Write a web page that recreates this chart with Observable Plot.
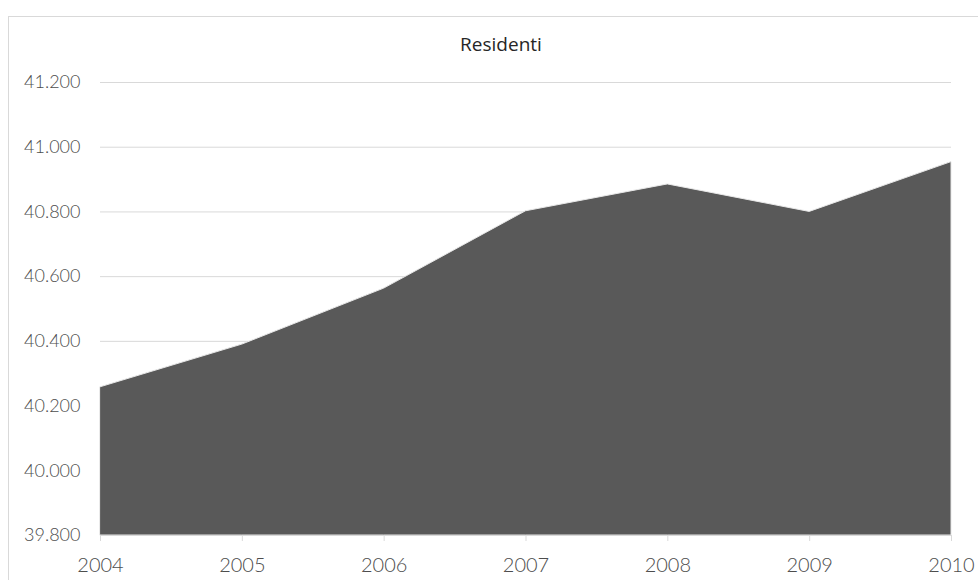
<!DOCTYPE html>
<html>
<head>
<meta charset="utf-8">
<script src="https://cdn.jsdelivr.net/npm/d3@7"></script>
<script src="https://cdn.jsdelivr.net/npm/@observablehq/plot@0.6"></script>
<style>
  html, body { margin: 0; padding: 0; background: #fff; }
  #wrap { position: relative; width: 978px; height: 580px; overflow: hidden; }
  #frame { position: absolute; left: 8px; top: 16px; width: 990px; height: 600px; border: 1px solid #d9d9d9; box-sizing: border-box; }
  #title { position: absolute; left: 0; width: 1002px; top: 35px; line-height: 19px; text-align: center; font-family: "Open Sans", sans-serif; font-size: 19px; color: #262626; font-weight: 400; }
  #chart { position: absolute; left: 0; top: 0; }
  #chart text { font-weight: 300; }
</style>
</head>
<body>
<div id="wrap">
  <div id="frame"></div>
  <div id="title">Residenti</div>
  <div id="chart"></div>
</div>
<script>
const years = [2004, 2005, 2006, 2007, 2008, 2009, 2010];
const residenti = [40258, 40390, 40563, 40802, 40885, 40800, 40954];
const yTicks = [39800, 40000, 40200, 40400, 40600, 40800, 41000, 41200];

const data = years.map((y, i) => ({year: y, value: residenti[i]}));
const it = d3.formatLocale({decimal: ",", thousands: ".", grouping: [3], currency: ["€", ""]});
const fmt = it.format(",d");

const chart = Plot.plot({
  width: 978,
  height: 580,
  marginLeft: 100,
  marginRight: 27,
  marginTop: 82,
  marginBottom: 45,
  style: {fontFamily: "Lato, 'Open Sans', sans-serif", fontSize: "18px", color: "#595959", background: "transparent"},
  x: {type: "linear", domain: [2004, 2010], label: null},
  y: {type: "linear", domain: [39800, 41200], label: null},
  marks: [
    Plot.gridY(yTicks, {stroke: "#d9d9d9", strokeOpacity: 1}),
    Plot.areaY(data, {x: "year", y1: 39800, y2: "value", fill: "#595959", stroke: "#e8e8e8", strokeWidth: 1}),
    Plot.ruleY([39800], {stroke: "#d9d9d9"}),
    Plot.axisY(yTicks, {tickFormat: fmt, tickSize: 0, tickPadding: 20, fontSize: 18, fill: "#4d4d4d"}),
    Plot.axisX(years, {tickFormat: d => String(d), tickSize: 6, tickPadding: 16, fontSize: 20, fill: "#4d4d4d", stroke: "#d9d9d9"})
  ]
});
document.getElementById("chart").appendChild(chart);
</script>
</body>
</html>
